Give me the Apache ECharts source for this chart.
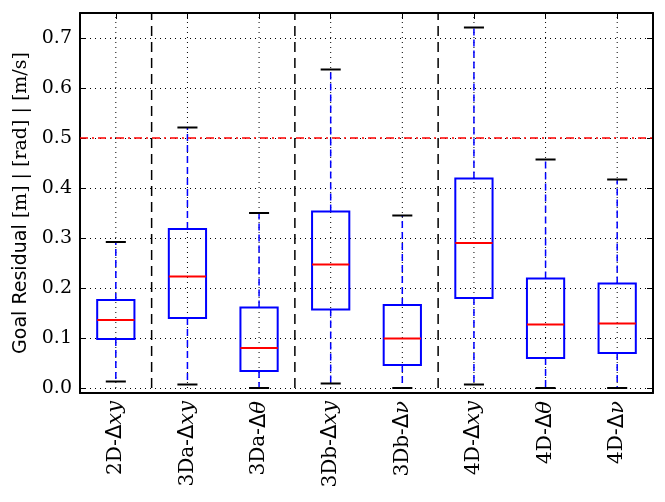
<!DOCTYPE html>
<html>
<head>
<meta charset="utf-8">
<script src="https://cdn.jsdelivr.net/npm/echarts@6/dist/echarts.min.js"></script>
<style>html,body{margin:0;padding:0;background:#fff;}#c{width:665px;height:502px;}</style>
</head>
<body>
<div id="c"></div>
<script>
// ---- data ----
var catPrefix = ['2D-', '3Da-', '3Da-', '3Db-', '3Db-', '4D-', '4D-', '4D-'];
var catSymbol = ['xy', 'xy', 'θ', 'xy', 'ν', 'xy', 'θ', 'ν'];
var categories = catPrefix.map(function (p, i) { return p + 'Δ' + catSymbol[i]; });
var whiskerLow  = [0.013, 0.007, 0.000, 0.009, 0.000, 0.007, 0.000, 0.000];
var q1          = [0.098, 0.140, 0.034, 0.157, 0.046, 0.180, 0.060, 0.070];
var median      = [0.136, 0.223, 0.080, 0.247, 0.099, 0.290, 0.127, 0.129];
var q3          = [0.176, 0.318, 0.161, 0.353, 0.166, 0.419, 0.219, 0.209];
var whiskerHigh = [0.292, 0.521, 0.350, 0.637, 0.345, 0.721, 0.457, 0.417];
var separatorsAfter = [0, 2, 4];
var yTicks = [0, 0.1, 0.2, 0.3, 0.4, 0.5, 0.6, 0.7];
var thresholdValue = 0.5;
var yMin = -0.01, yMax = 0.75;

var boxData = categories.map(function (c, i) {
  return [i, whiskerLow[i], q1[i], median[i], q3[i], whiskerHigh[i]];
});
var gridData = categories.map(function (c, i) { return [i]; });
var sepData = separatorsAfter.map(function (i) { return [i]; });

var serif = 'DejaVu Serif';
var chart = echarts.init(document.getElementById('c'));

function lbl(v, idx) {
  return '{n|' + catPrefix[idx] + '}{d|Δ}{i|' + catSymbol[idx] + '}';
}

var option = {
  animation: false,
  backgroundColor: '#fff',
  grid: { left: 80, right: 12, top: 13, bottom: 109 },
  xAxis: [{
    type: 'category',
    data: categories,
    position: 'bottom',
    axisLine: { onZero: false, lineStyle: { color: '#000', width: 2 } },
    axisTick: { inside: true, alignWithLabel: true, length: 6, lineStyle: { color: '#000', width: 1 } },
    splitLine: { show: false },
    axisLabel: {
      rotate: 90, margin: 8, color: '#000',
      formatter: lbl,
      rich: {
        n: { fontFamily: serif, fontSize: 20, color: '#000' },
        d: { fontFamily: 'DejaVu Sans', fontSize: 21, color: '#000' },
        i: { fontFamily: serif, fontStyle: 'italic', fontSize: 21, color: '#000' }
      }
    }
  }, {
    type: 'category',
    data: categories,
    position: 'top',
    axisLine: { show: true, onZero: false, lineStyle: { color: '#000', width: 2 } },
    axisTick: { show: true, inside: true, alignWithLabel: true, length: 6, lineStyle: { color: '#000', width: 1 } },
    axisLabel: { show: false },
    splitLine: { show: false }
  }],
  yAxis: [{
    type: 'value',
    min: yMin, max: yMax,
    position: 'left',
    name: '{s|Goal Residual }{r|[m] | [rad] | [m/s]}',
    nameLocation: 'middle',
    nameGap: 46,
    nameRotate: 90,
    nameTextStyle: {
      rich: {
        s: { fontFamily: 'DejaVu Sans', fontSize: 19, color: '#000' },
        r: { fontFamily: serif, fontSize: 19, color: '#000' }
      }
    },
    axisLine: { show: true, onZero: false, lineStyle: { color: '#000', width: 2 } },
    axisTick: { show: true, inside: true, length: 6, customValues: yTicks, lineStyle: { color: '#000', width: 1 } },
    axisLabel: {
      customValues: yTicks, color: '#000', fontFamily: serif, fontSize: 19, margin: 8,
      formatter: function (v) { return v.toFixed(1); }
    },
    splitLine: { show: true, lineStyle: { color: '#000', type: [1, 4], width: 1 } }
  }, {
    type: 'value',
    min: yMin, max: yMax,
    position: 'right',
    axisLine: { show: true, onZero: false, lineStyle: { color: '#000', width: 2 } },
    axisTick: { show: true, inside: true, length: 6, customValues: yTicks, lineStyle: { color: '#000', width: 1 } },
    axisLabel: { show: false },
    splitLine: { show: false }
  }],
  series: [{
    type: 'custom',
    name: 'vgrid',
    z: 1,
    xAxisIndex: 0, yAxisIndex: 0,
    data: gridData,
    encode: { x: 0 },
    renderItem: function (params, api) {
      var i = api.value(0);
      var a = api.coord([i, yMin]);
      var b = api.coord([i, yMax]);
      return {
        type: 'line',
        shape: { x1: a[0], y1: a[1], x2: b[0], y2: b[1] },
        style: { stroke: '#000', lineWidth: 1, lineDash: [1, 4] }
      };
    }
  }, {
    type: 'custom',
    name: 'separators',
    z: 2,
    data: sepData,
    encode: { x: 0 },
    renderItem: function (params, api) {
      var i = api.value(0);
      var bw = api.size([1, 0])[0];
      var a = api.coord([i, 0]);
      var b = api.coord([i, yMax]);
      var x = a[0] + bw / 2;
      return {
        type: 'line',
        shape: { x1: x, y1: a[1], x2: x, y2: b[1] },
        style: { stroke: '#000', lineWidth: 1.5, lineDash: [10, 6] }
      };
    }
  }, {
    type: 'custom',
    name: 'boxes',
    z: 3,
    data: boxData,
    encode: { x: 0, y: [1, 2, 3, 4, 5] },
    renderItem: function (params, api) {
      var i = api.value(0);
      var bw = api.size([1, 0])[0];
      var boxW = bw * 0.52;
      var capW = bw * 0.28;
      var pLow = api.coord([i, api.value(1)]);
      var pQ1 = api.coord([i, api.value(2)]);
      var pMed = api.coord([i, api.value(3)]);
      var pQ3 = api.coord([i, api.value(4)]);
      var pHigh = api.coord([i, api.value(5)]);
      var x = pLow[0];
      var whisk = { stroke: '#0000ff', lineWidth: 1.5, lineDash: [7, 4] };
      return {
        type: 'group',
        children: [
          { type: 'line', shape: { x1: x, y1: pQ3[1], x2: x, y2: pHigh[1] }, style: whisk },
          { type: 'line', shape: { x1: x, y1: pQ1[1], x2: x, y2: pLow[1] }, style: whisk },
          { type: 'line', shape: { x1: x - capW / 2, y1: pHigh[1], x2: x + capW / 2, y2: pHigh[1] }, style: { stroke: '#000', lineWidth: 2 } },
          { type: 'line', shape: { x1: x - capW / 2, y1: pLow[1], x2: x + capW / 2, y2: pLow[1] }, style: { stroke: '#000', lineWidth: 2 } },
          { type: 'rect', shape: { x: x - boxW / 2, y: pQ3[1], width: boxW, height: pQ1[1] - pQ3[1] }, style: { stroke: '#0000ff', lineWidth: 2, fill: 'none' } },
          { type: 'line', shape: { x1: x - boxW / 2, y1: pMed[1], x2: x + boxW / 2, y2: pMed[1] }, style: { stroke: '#ff0000', lineWidth: 2 } }
        ]
      };
    },
    markLine: {
      silent: true,
      symbol: ['none', 'none'],
      label: { show: false },
      lineStyle: { color: '#ff0000', width: 1.5, type: [8, 4, 2, 4] },
      data: [{ yAxis: thresholdValue }]
    }
  }]
};
chart.setOption(option);
</script>
</body>
</html>
